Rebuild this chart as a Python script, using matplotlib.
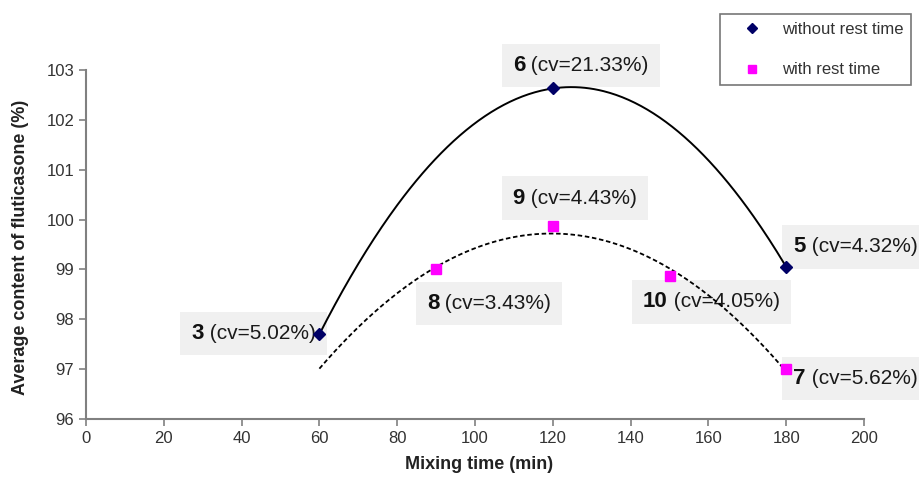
import numpy as np
import matplotlib
matplotlib.use('Agg')
import matplotlib.pyplot as plt
from matplotlib.offsetbox import AnnotationBbox, HPacker, TextArea

plt.rcParams['font.family'] = ['Liberation Sans', 'DejaVu Sans']

# data
times_no_rest = [60, 120, 180]
content_no_rest = [97.70, 102.63, 99.05]
batch_no_rest = ['3', '6', '5']
cv_no_rest = ['5.02', '21.33', '4.32']

times_rest = [90, 120, 150, 180]
content_rest = [99.00, 99.87, 98.87, 97.00]
batch_rest = ['8', '9', '10', '7']
cv_rest = ['3.43', '4.43', '4.05', '5.62']

# label offsets from the point, in pixels (x right, y up)
offs_no_rest = [(-66, 1), (28, 23), (69, 20)]
offs_rest = [(53, -34), (22, 28), (42, -26), (69, -9)]

fig = plt.figure(figsize=(9.19, 4.78), dpi=100)
ax = fig.add_axes([86 / 919, 1 - 419 / 478, 778 / 919, 349 / 478])

# 2nd order trendlines, like the excel ones
xs = np.linspace(60, 180, 300)
p1 = np.polyfit(times_no_rest, content_no_rest, 2)
p2 = np.polyfit(times_rest, content_rest, 2)
ax.plot(xs, np.polyval(p1, xs), color='black', lw=1.4, zorder=2)
ax.plot(xs, np.polyval(p2, xs), color='black', lw=1.3, ls=(0, (2.5, 1.5)), zorder=2)

ax.plot(times_no_rest, content_no_rest, 'D', color='#000066', ms=6,
        ls='none', zorder=3, label='without rest time')
ax.plot(times_rest, content_rest, 's', color='#ff00ff', ms=7.5,
        ls='none', zorder=3, label='with rest time')


def add_label(x, y, num, cv, off):
    parts = HPacker(children=[
        TextArea(num, textprops=dict(fontsize=16, fontweight='bold', color='#111111')),
        TextArea(' (cv=%s%%)' % cv, textprops=dict(fontsize=15, color='#1a1a1a')),
    ], align='baseline', pad=0, sep=0)
    ab = AnnotationBbox(parts, (x, y), xybox=(off[0] * 0.72, off[1] * 0.72),
                        boxcoords='offset points', frameon=True, pad=0.8,
                        bboxprops=dict(facecolor='#f0f0f0', edgecolor='none'),
                        zorder=1)
    ax.add_artist(ab)


for x, y, n, c, o in zip(times_no_rest, content_no_rest, batch_no_rest, cv_no_rest, offs_no_rest):
    add_label(x, y, n, c, o)
for x, y, n, c, o in zip(times_rest, content_rest, batch_rest, cv_rest, offs_rest):
    add_label(x, y, n, c, o)

ax.set_xlim(0, 200)
ax.set_ylim(96, 103)
ax.set_xticks(range(0, 201, 20))
ax.set_yticks(range(96, 104))
for s in ['top', 'right']:
    ax.spines[s].set_visible(False)
for s in ['left', 'bottom']:
    ax.spines[s].set_color('#808080')
    ax.spines[s].set_linewidth(1.5)
ax.tick_params(direction='out', length=5, width=1.2, color='#808080',
               labelsize=12, labelcolor='#333333')

ax.set_xlabel('Mixing time (min)', fontsize=13, fontweight='bold', color='#222222')
ax.set_ylabel('Average content of fluticasone (%)', fontsize=13, fontweight='bold', color='#222222')
ax.xaxis.set_label_coords(0.505, -0.105)
ax.yaxis.set_label_coords(-0.073, 0.493)

leg = fig.legend(loc='upper right', bbox_to_anchor=(911 / 919, 1 - 14 / 478),
                 fontsize=12, frameon=True, fancybox=False, borderpad=0.45,
                 labelspacing=1.55, handlelength=3.0, handletextpad=0.3,
                 borderaxespad=0, markerscale=0.85)
leg.get_frame().set_edgecolor('#555555')
leg.get_frame().set_linewidth(1.2)
for t in leg.get_texts():
    t.set_color('#333333')

fig.savefig('out.png', dpi=100)
